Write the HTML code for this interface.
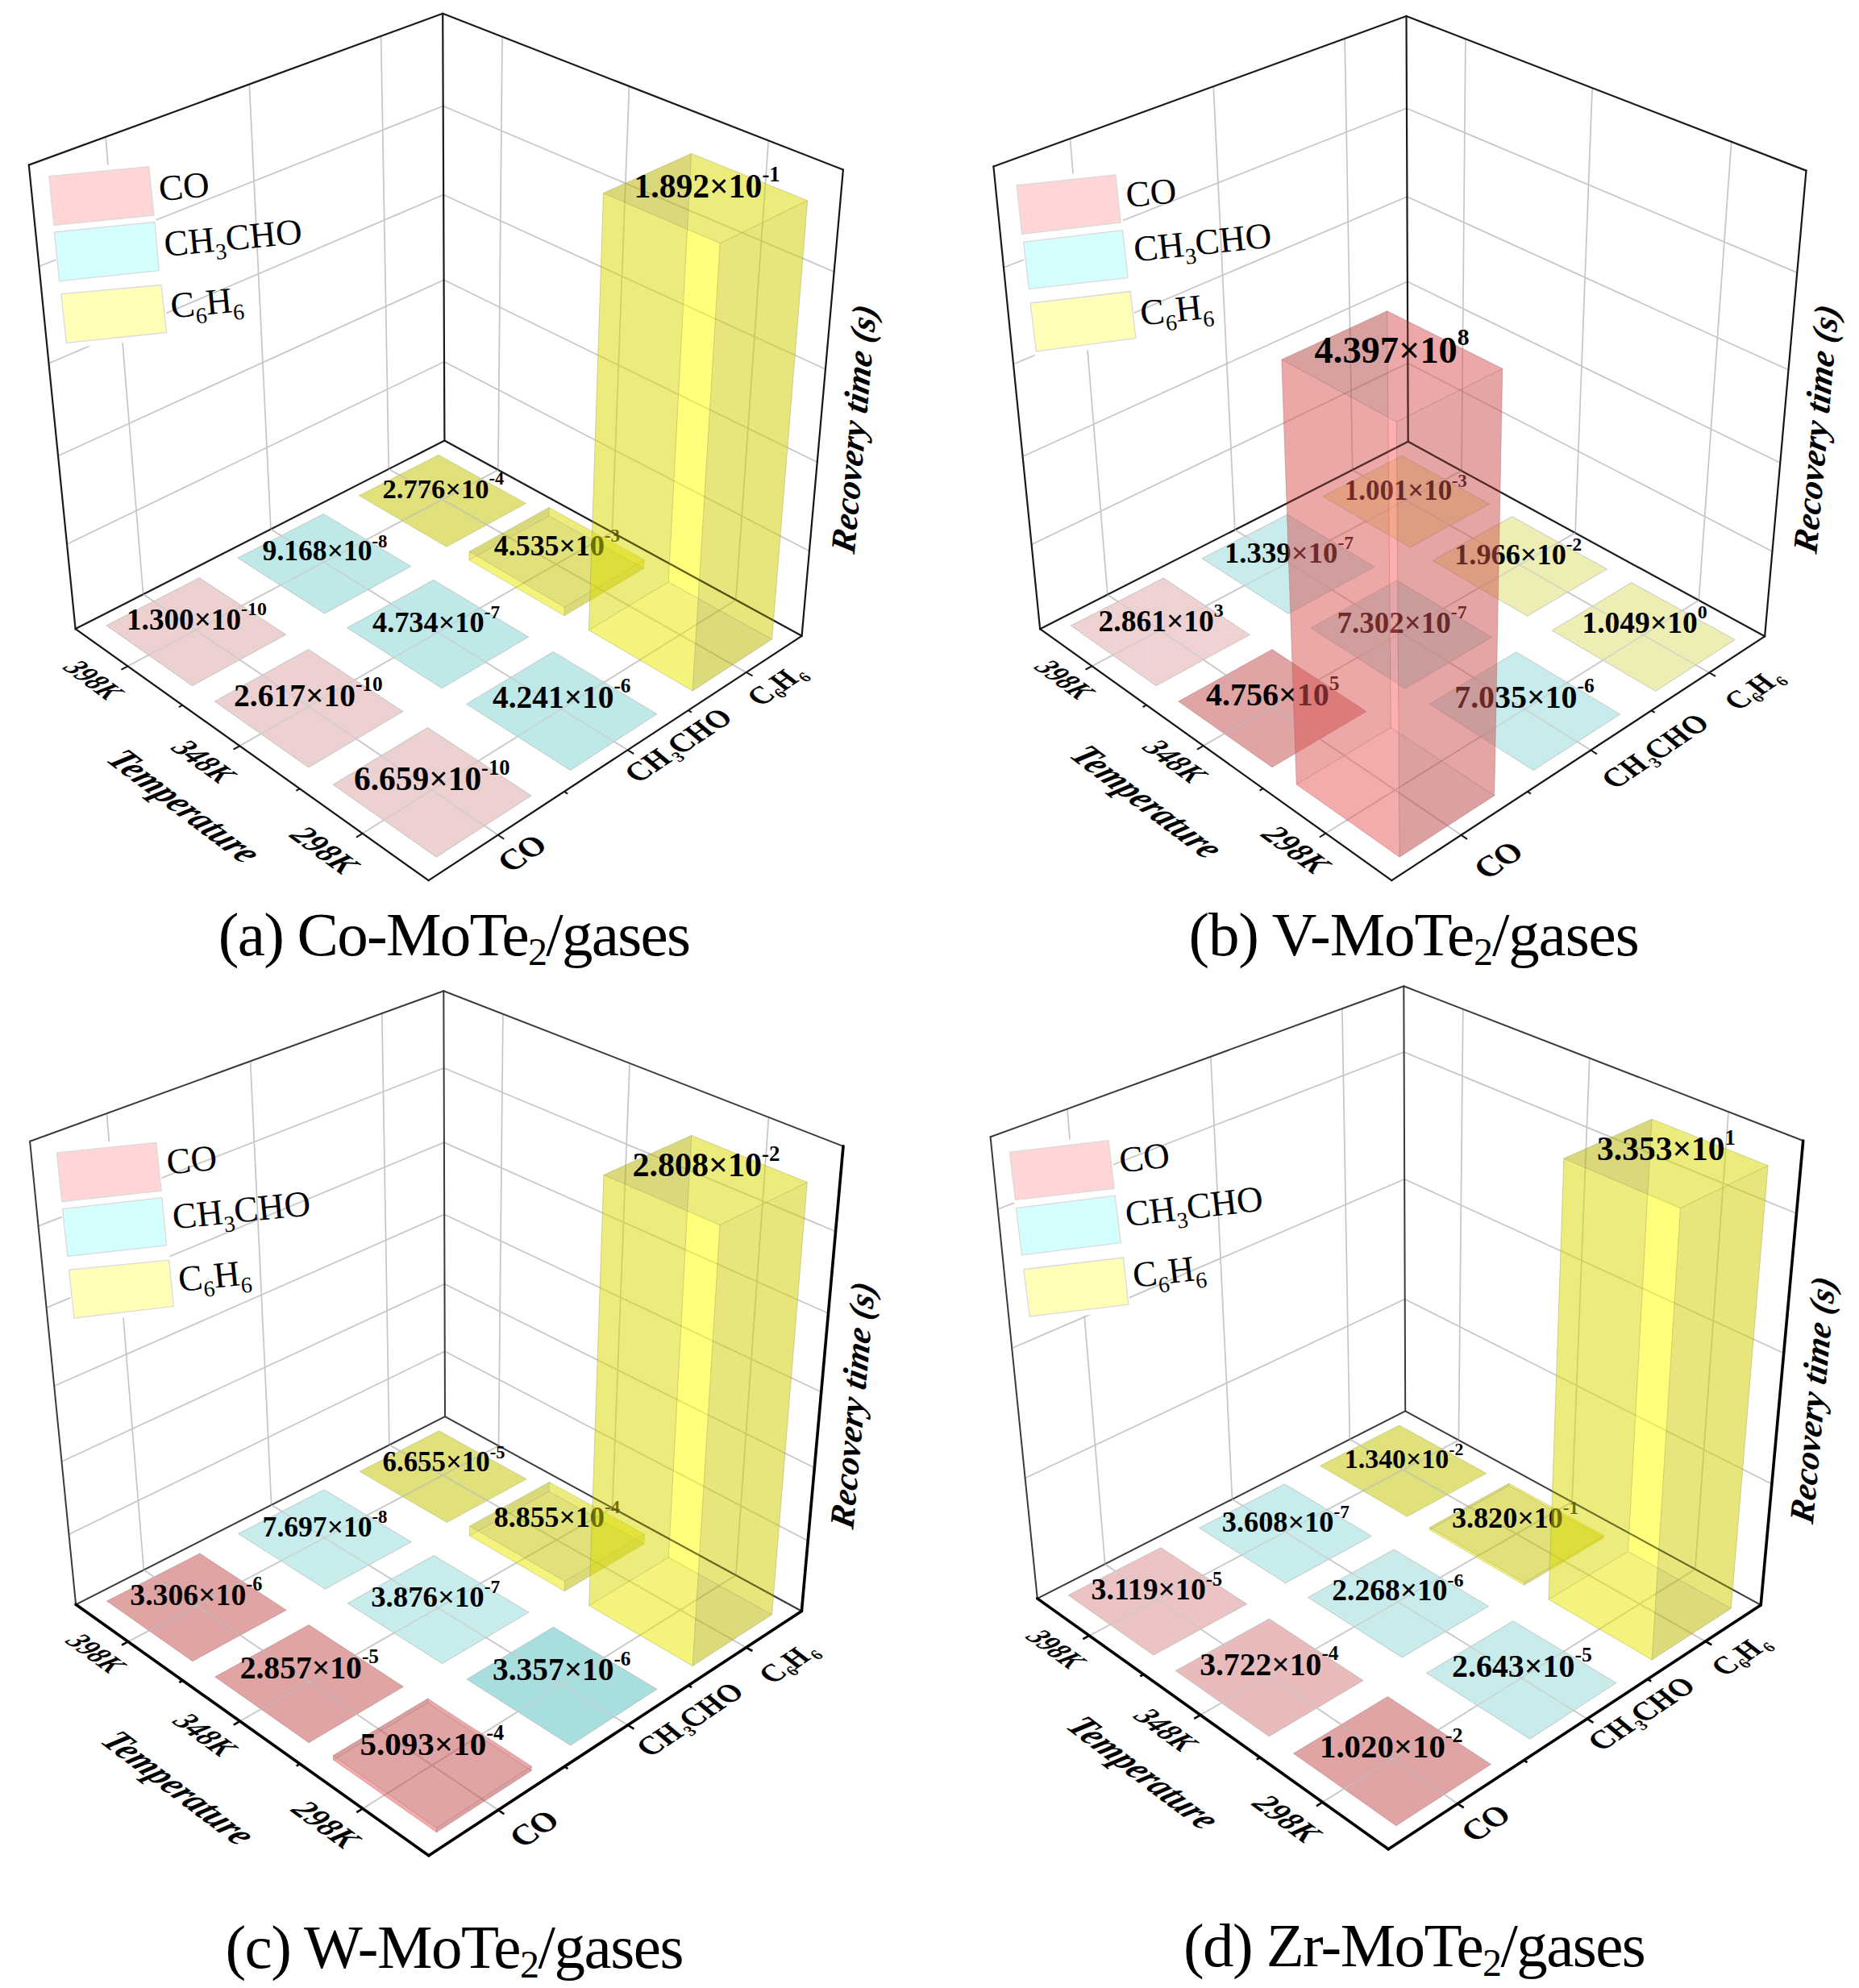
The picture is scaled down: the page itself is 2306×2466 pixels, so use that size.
<!DOCTYPE html>
<html><head><meta charset="utf-8"><title>Recovery time of doped MoTe2 gas sensors</title>
<style>
html,body{margin:0;padding:0;background:#fff}
svg{display:block}
text{font-family:"Liberation Serif",serif;fill:#000}
.lb{font-weight:bold}
.ax{font-weight:bold;font-style:italic}
.lg{font-weight:normal}
.cap{font-weight:normal}
</style></head><body>
<svg width="2306" height="2466" viewBox="0 0 2306 2466">
<rect width="2306" height="2466" fill="#fff"/>
<g id="panel-a">
<line x1="177.6" y1="737.2" x2="131.1" y2="169.7" stroke="#c6c6c6" stroke-width="1.70"/>
<line x1="617.9" y1="582.9" x2="623.0" y2="45.6" stroke="#c6c6c6" stroke-width="1.70"/>
<line x1="158.5" y1="826.3" x2="617.9" y2="582.9" stroke="#c6c6c6" stroke-width="1.70"/>
<line x1="177.6" y1="737.2" x2="617.8" y2="1035.7" stroke="#c6c6c6" stroke-width="1.70"/>
<line x1="335.9" y1="656.5" x2="309.3" y2="104.6" stroke="#c6c6c6" stroke-width="1.70"/>
<line x1="759.3" y1="660.2" x2="780.5" y2="107.0" stroke="#c6c6c6" stroke-width="1.70"/>
<line x1="297.3" y1="925.3" x2="759.3" y2="660.2" stroke="#c6c6c6" stroke-width="1.70"/>
<line x1="335.9" y1="656.5" x2="778.6" y2="930.3" stroke="#c6c6c6" stroke-width="1.70"/>
<line x1="482.2" y1="581.8" x2="472.6" y2="44.8" stroke="#c6c6c6" stroke-width="1.70"/>
<line x1="912.8" y1="744.1" x2="953.2" y2="174.4" stroke="#c6c6c6" stroke-width="1.70"/>
<line x1="449.7" y1="1033.8" x2="912.8" y2="744.1" stroke="#c6c6c6" stroke-width="1.70"/>
<line x1="482.2" y1="581.8" x2="925.6" y2="834.0" stroke="#c6c6c6" stroke-width="1.70"/>
<line x1="83.0" y1="675.1" x2="551.0" y2="448.8" stroke="#c6c6c6" stroke-width="1.70"/>
<line x1="551.0" y1="448.8" x2="1003.9" y2="683.4" stroke="#c6c6c6" stroke-width="1.70"/>
<line x1="72.0" y1="565.4" x2="550.6" y2="347.3" stroke="#c6c6c6" stroke-width="1.70"/>
<line x1="550.6" y1="347.3" x2="1013.7" y2="573.2" stroke="#c6c6c6" stroke-width="1.70"/>
<line x1="60.5" y1="450.7" x2="550.1" y2="241.6" stroke="#c6c6c6" stroke-width="1.70"/>
<line x1="550.1" y1="241.6" x2="1024.0" y2="457.9" stroke="#c6c6c6" stroke-width="1.70"/>
<line x1="48.5" y1="330.5" x2="549.7" y2="131.5" stroke="#c6c6c6" stroke-width="1.70"/>
<line x1="549.7" y1="131.5" x2="1034.7" y2="337.1" stroke="#c6c6c6" stroke-width="1.70"/>
<line x1="93.6" y1="780.1" x2="551.4" y2="546.5" stroke="#1a1a1a" stroke-width="2.20" stroke-linecap="round"/>
<line x1="551.4" y1="546.5" x2="994.6" y2="788.8" stroke="#1a1a1a" stroke-width="2.20" stroke-linecap="round"/>
<line x1="551.4" y1="546.5" x2="549.2" y2="16.8" stroke="#1a1a1a" stroke-width="2.20" stroke-linecap="round"/>
<line x1="93.6" y1="780.1" x2="35.8" y2="204.6" stroke="#1a1a1a" stroke-width="2.20" stroke-linecap="round"/>
<line x1="35.8" y1="204.6" x2="549.2" y2="16.8" stroke="#1a1a1a" stroke-width="2.20" stroke-linecap="round"/>
<line x1="549.2" y1="16.8" x2="1045.9" y2="210.5" stroke="#1a1a1a" stroke-width="2.20" stroke-linecap="round"/>
<polygon points="58.1,211.8 185.9,199.4 209.3,419.3 81.0,432.6" fill="#fff"/>
<polygon points="60.8,218.6 184.6,206.6 191.0,267.0 66.9,279.4" fill="#ffd5d5" stroke="#dadada" stroke-width="1.3" stroke-linejoin="round"/>
<polygon points="67.5,288.0 192.0,275.4 197.2,335.6 73.6,348.6" fill="#d4ffff" stroke="#dadada" stroke-width="1.3" stroke-linejoin="round"/>
<polygon points="75.9,364.7 200.0,353.5 206.6,412.5 82.3,425.4" fill="#ffffb8" stroke="#dadada" stroke-width="1.3" stroke-linejoin="round"/>
<text transform="translate(198.5,249.2) rotate(-5.5)" font-size="45.0" class="lg">CO</text>
<text transform="translate(205.0,318.0) rotate(-5.5)" font-size="45.0" class="lg">CH<tspan dy="10" font-size="28">3</tspan><tspan dy="-10">CHO</tspan></text>
<text transform="translate(213.0,394.4) rotate(-5.5)" font-size="45.0" class="lg">C<tspan dy="10" font-size="28">6</tspan><tspan dy="-10">H</tspan><tspan dy="10" font-size="28">6</tspan></text>
<polygon points="132.0,775.9 247.2,716.7 354.7,787.2 238.5,850.7" fill="#edd0d0" stroke="#b5b5b5" stroke-width="0.9" stroke-linejoin="round" stroke-opacity="0.80"/>
<polygon points="266.2,870.1 382.6,805.5 499.9,882.5 382.8,952.0" fill="#edd0d0" stroke="#b5b5b5" stroke-width="0.9" stroke-linejoin="round" stroke-opacity="0.80"/>
<polygon points="413.1,973.3 530.4,902.5 659.0,986.9 541.3,1063.2" fill="#edd0d0" stroke="#b5b5b5" stroke-width="0.9" stroke-linejoin="round" stroke-opacity="0.80"/>
<pattern id="dz0" width="2" height="2" patternUnits="userSpaceOnUse"><rect width="2" height="2" fill="#b8e5e5"/><rect width="1" height="1" fill="#c6ebeb"/><rect x="1" y="1" width="1" height="1" fill="#c6ebeb"/></pattern>
<polygon points="294.9,692.2 401.3,637.5 509.6,702.5 402.7,761.0" fill="url(#dz0)" stroke="#b5b5b5" stroke-width="0.9" stroke-linejoin="round" stroke-opacity="0.80"/>
<polygon points="430.6,778.8 537.7,719.4 655.5,790.1 548.1,853.8" fill="url(#dz0)" stroke="#b5b5b5" stroke-width="0.9" stroke-linejoin="round" stroke-opacity="0.80"/>
<polygon points="578.7,873.3 686.1,808.4 814.8,885.7 707.4,955.5" fill="url(#dz0)" stroke="#b5b5b5" stroke-width="0.9" stroke-linejoin="round" stroke-opacity="0.80"/>
<g>
<polygon points="445.4,614.8 543.9,564.2 652.6,624.4 553.9,678.3" fill="#c9c900" fill-opacity="0.30"/>
<polygon points="445.4,614.8 543.9,564.2 652.6,624.4 553.9,678.3" fill="#bfbf00" fill-opacity="0.30" stroke="#8c8c46" stroke-width="0.9" stroke-linejoin="round" stroke-opacity="0.35"/>
</g>
<line x1="158.5" y1="826.3" x2="617.9" y2="582.9" stroke="#cbcbcb" stroke-width="1.50" stroke-opacity="0.80"/>
<line x1="177.6" y1="737.2" x2="617.8" y2="1035.7" stroke="#cbcbcb" stroke-width="1.50" stroke-opacity="0.80"/>
<line x1="297.3" y1="925.3" x2="759.3" y2="660.2" stroke="#cbcbcb" stroke-width="1.50" stroke-opacity="0.80"/>
<line x1="335.9" y1="656.5" x2="778.6" y2="930.3" stroke="#cbcbcb" stroke-width="1.50" stroke-opacity="0.80"/>
<line x1="449.7" y1="1033.8" x2="912.8" y2="744.1" stroke="#cbcbcb" stroke-width="1.50" stroke-opacity="0.80"/>
<line x1="482.2" y1="581.8" x2="925.6" y2="834.0" stroke="#cbcbcb" stroke-width="1.50" stroke-opacity="0.80"/>
<g>
<polygon points="581.9,694.8 680.8,639.9 798.7,705.1 699.9,763.8" fill="#c9c900" fill-opacity="0.30"/>
<polygon points="581.9,694.8 680.8,639.9 681.0,629.5 582.0,684.2" fill="#a4a400" fill-opacity="0.30"/>
<polygon points="680.8,639.9 798.7,705.1 799.2,694.5 681.0,629.5" fill="#ffff00" fill-opacity="0.30"/>
<polygon points="581.9,694.8 699.9,763.8 700.2,753.0 582.0,684.2" fill="#ffff00" fill-opacity="0.30"/>
<polygon points="699.9,763.8 798.7,705.1 799.2,694.5 700.2,753.0" fill="#abab00" fill-opacity="0.30"/>
<polygon points="582.0,684.2 681.0,629.5 799.2,694.5 700.2,753.0" fill="#bfbf00" fill-opacity="0.30"/>
<line x1="581.9" y1="694.8" x2="582.0" y2="684.2" stroke="#8c8c46" stroke-width="1.00" stroke-opacity="0.30"/>
<line x1="798.7" y1="705.1" x2="799.2" y2="694.5" stroke="#8c8c46" stroke-width="1.00" stroke-opacity="0.30"/>
<line x1="699.9" y1="763.8" x2="700.2" y2="753.0" stroke="#8c8c46" stroke-width="1.00" stroke-opacity="0.30"/>
<line x1="680.8" y1="639.9" x2="681.0" y2="629.5" stroke="#8c8c46" stroke-width="1.00" stroke-opacity="0.30"/>
<line x1="582.0" y1="684.2" x2="681.0" y2="629.5" stroke="#8c8c46" stroke-width="1.00" stroke-opacity="0.30"/>
<line x1="681.0" y1="629.5" x2="799.2" y2="694.5" stroke="#8c8c46" stroke-width="1.00" stroke-opacity="0.30"/>
<line x1="799.2" y1="694.5" x2="700.2" y2="753.0" stroke="#8c8c46" stroke-width="1.00" stroke-opacity="0.30"/>
<line x1="700.2" y1="753.0" x2="582.0" y2="684.2" stroke="#8c8c46" stroke-width="1.00" stroke-opacity="0.30"/>
<line x1="581.9" y1="694.8" x2="699.9" y2="763.8" stroke="#8c8c46" stroke-width="1.00" stroke-opacity="0.30"/>
<line x1="699.9" y1="763.8" x2="798.7" y2="705.1" stroke="#8c8c46" stroke-width="1.00" stroke-opacity="0.30"/>
<line x1="581.9" y1="694.8" x2="680.8" y2="639.9" stroke="#8c8c46" stroke-width="1.00" stroke-opacity="0.30"/>
<line x1="680.8" y1="639.9" x2="798.7" y2="705.1" stroke="#8c8c46" stroke-width="1.00" stroke-opacity="0.30"/>
</g>
<text x="157.0" y="780.5" font-size="37.2" class="lb">1.300×10<tspan dy="-17.5" font-size="23.8">-10</tspan></text>
<text x="290.0" y="875.8" font-size="39.5" class="lb">2.617×10<tspan dy="-18.6" font-size="25.3">-10</tspan></text>
<text x="439.0" y="980.0" font-size="41.4" class="lb">6.659×10<tspan dy="-19.5" font-size="26.5">-10</tspan></text>
<text x="325.6" y="695.3" font-size="35.6" class="lb">9.168×10<tspan dy="-16.7" font-size="22.8">-8</tspan></text>
<text x="462.0" y="784.0" font-size="36.3" class="lb">4.734×10<tspan dy="-17.1" font-size="23.2">-7</tspan></text>
<text x="611.0" y="877.6" font-size="39.4" class="lb">4.241×10<tspan dy="-18.5" font-size="25.2">-6</tspan></text>
<text x="474.5" y="617.5" font-size="34.6" class="lb">2.776×10<tspan dy="-16.3" font-size="22.2">-4</tspan></text>
<text x="612.8" y="688.5" font-size="35.9" class="lb">4.535×10<tspan dy="-16.9" font-size="23.0">-3</tspan></text>
<g>
<polygon points="730.4,781.7 829.2,722.0 957.6,793.0 859.1,857.0" fill="#c9c900" fill-opacity="0.30"/>
<polygon points="730.4,781.7 829.2,722.0 857.6,190.4 748.5,239.6" fill="#a4a400" fill-opacity="0.30"/>
<polygon points="829.2,722.0 957.6,793.0 1001.7,248.7 857.6,190.4" fill="#ffff00" fill-opacity="0.30"/>
<polygon points="730.4,781.7 859.1,857.0 893.1,301.8 748.5,239.6" fill="#ffff00" fill-opacity="0.30"/>
<polygon points="859.1,857.0 957.6,793.0 1001.7,248.7 893.1,301.8" fill="#abab00" fill-opacity="0.30"/>
<polygon points="748.5,239.6 857.6,190.4 1001.7,248.7 893.1,301.8" fill="#bfbf00" fill-opacity="0.30"/>
<clipPath id="ca"><polygon points="748.5,239.6 857.6,190.4 1001.7,248.7 957.6,793.0 859.1,857.0 730.4,781.7"/></clipPath>
<g clip-path="url(#ca)">
<line x1="93.6" y1="780.1" x2="551.4" y2="546.5" stroke="#1a1a1a" stroke-width="2.20" stroke-opacity="0.40"/>
<line x1="551.4" y1="546.5" x2="994.6" y2="788.8" stroke="#1a1a1a" stroke-width="2.20" stroke-opacity="0.40"/>
<line x1="551.4" y1="546.5" x2="549.2" y2="16.8" stroke="#1a1a1a" stroke-width="2.20" stroke-opacity="0.40"/>
</g>
<line x1="730.4" y1="781.7" x2="748.5" y2="239.6" stroke="#8c8c46" stroke-width="1.00" stroke-opacity="0.35"/>
<line x1="957.6" y1="793.0" x2="1001.7" y2="248.7" stroke="#8c8c46" stroke-width="1.00" stroke-opacity="0.35"/>
<line x1="859.1" y1="857.0" x2="893.1" y2="301.8" stroke="#8c8c46" stroke-width="1.00" stroke-opacity="0.35"/>
<line x1="829.2" y1="722.0" x2="857.6" y2="190.4" stroke="#8c8c46" stroke-width="1.00" stroke-opacity="0.35"/>
<line x1="748.5" y1="239.6" x2="857.6" y2="190.4" stroke="#8c8c46" stroke-width="1.00" stroke-opacity="0.35"/>
<line x1="857.6" y1="190.4" x2="1001.7" y2="248.7" stroke="#8c8c46" stroke-width="1.00" stroke-opacity="0.35"/>
<line x1="1001.7" y1="248.7" x2="893.1" y2="301.8" stroke="#8c8c46" stroke-width="1.00" stroke-opacity="0.35"/>
<line x1="893.1" y1="301.8" x2="748.5" y2="239.6" stroke="#8c8c46" stroke-width="1.00" stroke-opacity="0.35"/>
<line x1="730.4" y1="781.7" x2="859.1" y2="857.0" stroke="#8c8c46" stroke-width="1.00" stroke-opacity="0.35"/>
<line x1="859.1" y1="857.0" x2="957.6" y2="793.0" stroke="#8c8c46" stroke-width="1.00" stroke-opacity="0.35"/>
<line x1="730.4" y1="781.7" x2="829.2" y2="722.0" stroke="#8c8c46" stroke-width="1.00" stroke-opacity="0.35"/>
<line x1="829.2" y1="722.0" x2="957.6" y2="793.0" stroke="#8c8c46" stroke-width="1.00" stroke-opacity="0.35"/>
</g>
<text x="786.5" y="245.0" font-size="41.6" class="lb">1.892×10<tspan dy="-19.6" font-size="26.6">-1</tspan></text>
<line x1="93.6" y1="780.1" x2="531.6" y2="1092.2" stroke="#151515" stroke-width="2.20" stroke-linecap="round"/>
<line x1="531.6" y1="1092.2" x2="994.6" y2="788.8" stroke="#151515" stroke-width="2.20" stroke-linecap="round"/>
<line x1="994.6" y1="788.8" x2="1045.9" y2="210.5" stroke="#151515" stroke-width="2.20" stroke-linecap="round"/>
<line x1="158.5" y1="826.3" x2="150.5" y2="830.6" stroke="#151515" stroke-width="2.00"/>
<line x1="617.8" y1="1035.7" x2="625.2" y2="1040.8" stroke="#151515" stroke-width="2.00"/>
<line x1="226.3" y1="874.7" x2="221.9" y2="877.1" stroke="#151515" stroke-width="2.00"/>
<line x1="700.0" y1="981.8" x2="704.2" y2="984.6" stroke="#151515" stroke-width="2.00"/>
<line x1="297.3" y1="925.3" x2="289.5" y2="929.7" stroke="#151515" stroke-width="2.00"/>
<line x1="778.6" y1="930.3" x2="786.2" y2="935.1" stroke="#151515" stroke-width="2.00"/>
<line x1="371.7" y1="978.3" x2="367.4" y2="980.8" stroke="#151515" stroke-width="2.00"/>
<line x1="853.7" y1="881.1" x2="858.0" y2="883.6" stroke="#151515" stroke-width="2.00"/>
<line x1="449.7" y1="1033.8" x2="442.0" y2="1038.6" stroke="#151515" stroke-width="2.00"/>
<line x1="925.6" y1="834.0" x2="933.5" y2="838.4" stroke="#151515" stroke-width="2.00"/>
<text transform="matrix(0.2537,0.1848,-0.3386,0.1789,115.7,843.2)" text-anchor="middle" y="33" font-size="100" class="ax">398K</text>
<text transform="matrix(0.2780,0.2027,-0.3428,0.1961,252.4,944.2)" text-anchor="middle" y="33" font-size="100" class="ax">348K</text>
<text transform="matrix(0.3059,0.2231,-0.3460,0.2156,402.3,1054.2)" text-anchor="middle" y="33" font-size="100" class="ax">298K</text>
<text transform="matrix(0.3276,0.2466,-0.4094,0.2385,229.0,999.8)" text-anchor="middle" y="33" font-size="100" class="ax">Temperature</text>
<text transform="matrix(0.3436,-0.2292,0.3492,0.2371,647.5,1058.4)" text-anchor="middle" y="33" font-size="100" class="ax">CO</text>
<text transform="matrix(0.3067,-0.2042,0.3480,0.2111,841.2,924.6)" text-anchor="middle" y="33" font-size="100" class="ax">CH<tspan dy="17" font-size="56">3</tspan><tspan dy="-17">CHO</tspan></text>
<text transform="matrix(0.2860,-0.1910,0.3477,0.1973,962.3,850.3)" text-anchor="middle" y="33" font-size="100" class="ax">C<tspan dy="17" font-size="56">6</tspan><tspan dy="-17">H</tspan><tspan dy="17" font-size="56">6</tspan></text>
<text transform="translate(1060.5,532.0) rotate(-84.9) skewX(-7)" text-anchor="middle" y="13.0" font-size="43.3" class="ax">Recovery time (s)</text>
<text x="270.7" y="1184.6" font-size="77.0" class="cap" textLength="586.3" lengthAdjust="spacing">(a) Co-MoTe<tspan dy="12" font-size="48">2</tspan><tspan dy="-12">/gases</tspan></text>
</g>
<g id="panel-b">
<line x1="1373.9" y1="737.5" x2="1327.5" y2="171.8" stroke="#c6c6c6" stroke-width="1.70"/>
<line x1="1813.0" y1="584.0" x2="1817.9" y2="48.4" stroke="#c6c6c6" stroke-width="1.70"/>
<line x1="1354.5" y1="826.3" x2="1813.0" y2="584.0" stroke="#c6c6c6" stroke-width="1.70"/>
<line x1="1373.9" y1="737.5" x2="1812.5" y2="1035.8" stroke="#c6c6c6" stroke-width="1.70"/>
<line x1="1531.8" y1="657.2" x2="1505.2" y2="107.1" stroke="#c6c6c6" stroke-width="1.70"/>
<line x1="1954.0" y1="661.0" x2="1975.1" y2="109.1" stroke="#c6c6c6" stroke-width="1.70"/>
<line x1="1492.7" y1="925.1" x2="1954.0" y2="661.0" stroke="#c6c6c6" stroke-width="1.70"/>
<line x1="1531.8" y1="657.2" x2="1973.3" y2="930.5" stroke="#c6c6c6" stroke-width="1.70"/>
<line x1="1677.7" y1="582.9" x2="1668.1" y2="47.8" stroke="#c6c6c6" stroke-width="1.70"/>
<line x1="2107.3" y1="744.6" x2="2147.7" y2="175.7" stroke="#c6c6c6" stroke-width="1.70"/>
<line x1="1644.6" y1="1033.7" x2="2107.3" y2="744.6" stroke="#c6c6c6" stroke-width="1.70"/>
<line x1="1677.7" y1="582.9" x2="2120.2" y2="834.3" stroke="#c6c6c6" stroke-width="1.70"/>
<line x1="1279.6" y1="675.6" x2="1746.3" y2="450.5" stroke="#c6c6c6" stroke-width="1.70"/>
<line x1="1746.3" y1="450.5" x2="2198.4" y2="684.0" stroke="#c6c6c6" stroke-width="1.70"/>
<line x1="1268.6" y1="566.2" x2="1745.8" y2="349.3" stroke="#c6c6c6" stroke-width="1.70"/>
<line x1="1745.8" y1="349.3" x2="2208.2" y2="573.9" stroke="#c6c6c6" stroke-width="1.70"/>
<line x1="1257.1" y1="451.8" x2="1745.4" y2="244.0" stroke="#c6c6c6" stroke-width="1.70"/>
<line x1="1745.4" y1="244.0" x2="2218.5" y2="458.8" stroke="#c6c6c6" stroke-width="1.70"/>
<line x1="1245.0" y1="332.0" x2="1744.9" y2="134.3" stroke="#c6c6c6" stroke-width="1.70"/>
<line x1="1744.9" y1="134.3" x2="2229.2" y2="338.1" stroke="#c6c6c6" stroke-width="1.70"/>
<line x1="1290.1" y1="780.2" x2="1746.7" y2="547.8" stroke="#1a1a1a" stroke-width="2.20" stroke-linecap="round"/>
<line x1="1746.7" y1="547.8" x2="2189.1" y2="789.3" stroke="#1a1a1a" stroke-width="2.20" stroke-linecap="round"/>
<line x1="1746.7" y1="547.8" x2="1744.5" y2="20.0" stroke="#1a1a1a" stroke-width="2.20" stroke-linecap="round"/>
<line x1="1290.1" y1="780.2" x2="1232.4" y2="206.5" stroke="#1a1a1a" stroke-width="2.20" stroke-linecap="round"/>
<line x1="1232.4" y1="206.5" x2="1744.5" y2="20.0" stroke="#1a1a1a" stroke-width="2.20" stroke-linecap="round"/>
<line x1="1744.5" y1="20.0" x2="2240.5" y2="211.6" stroke="#1a1a1a" stroke-width="2.20" stroke-linecap="round"/>
<polygon points="1258.4,223.0 1385.1,209.7 1411.7,426.4 1284.0,443.0" fill="#fff"/>
<polygon points="1261.1,229.8 1383.8,216.9 1390.3,276.0 1267.6,290.5" fill="#ffd5d5" stroke="#dadada" stroke-width="1.3" stroke-linejoin="round"/>
<polygon points="1269.8,300.2 1392.5,285.7 1399.0,344.7 1276.3,358.3" fill="#d4ffff" stroke="#dadada" stroke-width="1.3" stroke-linejoin="round"/>
<polygon points="1278.2,376.0 1402.2,361.5 1409.0,419.6 1285.3,435.8" fill="#ffffb8" stroke="#dadada" stroke-width="1.3" stroke-linejoin="round"/>
<text transform="translate(1398.3,257.3) rotate(-6.0)" font-size="45.0" class="lg">CO</text>
<text transform="translate(1408.0,324.4) rotate(-6.0)" font-size="45.0" class="lg">CH<tspan dy="10" font-size="28">3</tspan><tspan dy="-10">CHO</tspan></text>
<text transform="translate(1416.1,403.5) rotate(-6.0)" font-size="45.0" class="lg">C<tspan dy="10" font-size="28">6</tspan><tspan dy="-10">H</tspan><tspan dy="10" font-size="28">6</tspan></text>
<pattern id="dz1" width="2" height="2" patternUnits="userSpaceOnUse"><rect width="2" height="2" fill="#ecc6c6"/><rect width="1" height="1" fill="#f4dede"/><rect x="1" y="1" width="1" height="1" fill="#f4dede"/></pattern>
<polygon points="1328.3,776.1 1443.3,717.1 1550.2,787.4 1434.2,850.7" fill="url(#dz1)" stroke="#b5b5b5" stroke-width="0.9" stroke-linejoin="round" stroke-opacity="0.80"/>
<g>
<polygon points="1461.8,870.1 1578.0,805.6 1694.9,882.5 1577.9,951.8" fill="#c94f4f" fill-opacity="0.30"/>
<polygon points="1461.8,870.1 1578.0,805.6 1694.9,882.5 1577.9,951.8" fill="#bf4b4b" fill-opacity="0.30" stroke="#8c5050" stroke-width="0.9" stroke-linejoin="round" stroke-opacity="0.35"/>
</g>
<polygon points="1490.9,692.7 1597.0,638.3 1704.9,703.1 1598.1,761.3" fill="#c8ecec" stroke="#b5b5b5" stroke-width="0.9" stroke-linejoin="round" stroke-opacity="0.80"/>
<polygon points="1626.0,779.1 1732.8,719.9 1850.4,790.4 1743.1,854.0" fill="#c8ecec" stroke="#b5b5b5" stroke-width="0.9" stroke-linejoin="round" stroke-opacity="0.80"/>
<polygon points="1773.6,873.4 1880.9,808.8 2009.5,886.0 1902.1,955.6" fill="#c8ecec" stroke="#b5b5b5" stroke-width="0.9" stroke-linejoin="round" stroke-opacity="0.80"/>
<polygon points="1640.9,615.8 1739.2,565.4 1847.5,625.3 1749.0,679.0" fill="#eeeeb4" stroke="#b5b5b5" stroke-width="0.9" stroke-linejoin="round" stroke-opacity="0.80"/>
<polygon points="1777.0,695.4 1875.6,640.7 1993.3,705.8 1894.6,764.2" fill="#eeeeb4" stroke="#b5b5b5" stroke-width="0.9" stroke-linejoin="round" stroke-opacity="0.80"/>
<polygon points="1925.2,782.1 2023.8,722.6 2152.1,793.5 2053.7,857.3" fill="#eeeeb4" stroke="#b5b5b5" stroke-width="0.9" stroke-linejoin="round" stroke-opacity="0.80"/>
<line x1="1354.5" y1="826.3" x2="1813.0" y2="584.0" stroke="#cbcbcb" stroke-width="1.50" stroke-opacity="0.80"/>
<line x1="1373.9" y1="737.5" x2="1812.5" y2="1035.8" stroke="#cbcbcb" stroke-width="1.50" stroke-opacity="0.80"/>
<line x1="1492.7" y1="925.1" x2="1954.0" y2="661.0" stroke="#cbcbcb" stroke-width="1.50" stroke-opacity="0.80"/>
<line x1="1531.8" y1="657.2" x2="1973.3" y2="930.5" stroke="#cbcbcb" stroke-width="1.50" stroke-opacity="0.80"/>
<line x1="1644.6" y1="1033.7" x2="2107.3" y2="744.6" stroke="#cbcbcb" stroke-width="1.50" stroke-opacity="0.80"/>
<line x1="1677.7" y1="582.9" x2="2120.2" y2="834.3" stroke="#cbcbcb" stroke-width="1.50" stroke-opacity="0.80"/>
<text x="1667.8" y="620.2" font-size="34.9" class="lb">1.001×10<tspan dy="-16.4" font-size="22.3">-3</tspan></text>
<text x="1518.9" y="697.8" font-size="36.8" class="lb">1.339×10<tspan dy="-17.3" font-size="23.5">-7</tspan></text>
<text x="1804.2" y="699.6" font-size="36.3" class="lb">1.966×10<tspan dy="-17.1" font-size="23.3">-2</tspan></text>
<text x="1362.6" y="782.7" font-size="37.5" class="lb">2.861×10<tspan dy="-17.6" font-size="24.0">3</tspan></text>
<text x="1658.5" y="784.6" font-size="37.0" class="lb">7.302×10<tspan dy="-17.4" font-size="23.7">-7</tspan></text>
<text x="1962.4" y="784.6" font-size="37.5" class="lb">1.049×10<tspan dy="-17.6" font-size="24.0">0</tspan></text>
<text x="1496.0" y="874.5" font-size="40.0" class="lb">4.756×10<tspan dy="-18.8" font-size="25.6">5</tspan></text>
<text x="1804.2" y="877.6" font-size="39.9" class="lb">7.035×10<tspan dy="-18.8" font-size="25.5">-6</tspan></text>
<g>
<polygon points="1608.2,973.1 1725.3,902.5 1853.7,986.9 1736.1,1063.2" fill="#c94f4f" fill-opacity="0.30"/>
<polygon points="1608.2,973.1 1725.3,902.5 1720.7,385.7 1589.8,446.0" fill="#a44040" fill-opacity="0.30"/>
<polygon points="1725.3,902.5 1853.7,986.9 1863.8,457.3 1720.7,385.7" fill="#ff6464" fill-opacity="0.30"/>
<polygon points="1608.2,973.1 1736.1,1063.2 1732.3,523.1 1589.8,446.0" fill="#ff6464" fill-opacity="0.30"/>
<polygon points="1736.1,1063.2 1853.7,986.9 1863.8,457.3 1732.3,523.1" fill="#ab4343" fill-opacity="0.30"/>
<polygon points="1589.8,446.0 1720.7,385.7 1863.8,457.3 1732.3,523.1" fill="#bf4b4b" fill-opacity="0.30"/>
<clipPath id="cb"><polygon points="1589.8,446.0 1720.7,385.7 1863.8,457.3 1853.7,986.9 1736.1,1063.2 1608.2,973.1"/></clipPath>
<g clip-path="url(#cb)">
<line x1="1290.1" y1="780.2" x2="1746.7" y2="547.8" stroke="#1a1a1a" stroke-width="2.20" stroke-opacity="0.40"/>
<line x1="1746.7" y1="547.8" x2="2189.1" y2="789.3" stroke="#1a1a1a" stroke-width="2.20" stroke-opacity="0.40"/>
<line x1="1746.7" y1="547.8" x2="1744.5" y2="20.0" stroke="#1a1a1a" stroke-width="2.20" stroke-opacity="0.40"/>
</g>
<line x1="1608.2" y1="973.1" x2="1589.8" y2="446.0" stroke="#8c5050" stroke-width="1.00" stroke-opacity="0.30"/>
<line x1="1853.7" y1="986.9" x2="1863.8" y2="457.3" stroke="#8c5050" stroke-width="1.00" stroke-opacity="0.30"/>
<line x1="1736.1" y1="1063.2" x2="1732.3" y2="523.1" stroke="#8c5050" stroke-width="1.00" stroke-opacity="0.30"/>
<line x1="1725.3" y1="902.5" x2="1720.7" y2="385.7" stroke="#8c5050" stroke-width="1.00" stroke-opacity="0.30"/>
<line x1="1589.8" y1="446.0" x2="1720.7" y2="385.7" stroke="#8c5050" stroke-width="1.00" stroke-opacity="0.30"/>
<line x1="1720.7" y1="385.7" x2="1863.8" y2="457.3" stroke="#8c5050" stroke-width="1.00" stroke-opacity="0.30"/>
<line x1="1863.8" y1="457.3" x2="1732.3" y2="523.1" stroke="#8c5050" stroke-width="1.00" stroke-opacity="0.30"/>
<line x1="1732.3" y1="523.1" x2="1589.8" y2="446.0" stroke="#8c5050" stroke-width="1.00" stroke-opacity="0.30"/>
<line x1="1608.2" y1="973.1" x2="1736.1" y2="1063.2" stroke="#8c5050" stroke-width="1.00" stroke-opacity="0.30"/>
<line x1="1736.1" y1="1063.2" x2="1853.7" y2="986.9" stroke="#8c5050" stroke-width="1.00" stroke-opacity="0.30"/>
<line x1="1608.2" y1="973.1" x2="1725.3" y2="902.5" stroke="#8c5050" stroke-width="1.00" stroke-opacity="0.30"/>
<line x1="1725.3" y1="902.5" x2="1853.7" y2="986.9" stroke="#8c5050" stroke-width="1.00" stroke-opacity="0.30"/>
</g>
<text x="1630.6" y="449.7" font-size="46.4" class="lb">4.397×10<tspan dy="-21.8" font-size="29.7">8</tspan></text>
<line x1="1290.1" y1="780.2" x2="1726.3" y2="1092.2" stroke="#151515" stroke-width="2.20" stroke-linecap="round"/>
<line x1="1726.3" y1="1092.2" x2="2189.1" y2="789.3" stroke="#151515" stroke-width="2.20" stroke-linecap="round"/>
<line x1="2189.1" y1="789.3" x2="2240.5" y2="211.6" stroke="#151515" stroke-width="2.20" stroke-linecap="round"/>
<line x1="1354.5" y1="826.3" x2="1346.6" y2="830.5" stroke="#151515" stroke-width="2.00"/>
<line x1="1812.5" y1="1035.8" x2="1820.0" y2="1040.8" stroke="#151515" stroke-width="2.00"/>
<line x1="1422.0" y1="874.6" x2="1417.6" y2="877.0" stroke="#151515" stroke-width="2.00"/>
<line x1="1894.7" y1="981.9" x2="1898.9" y2="984.7" stroke="#151515" stroke-width="2.00"/>
<line x1="1492.7" y1="925.1" x2="1484.9" y2="929.6" stroke="#151515" stroke-width="2.00"/>
<line x1="1973.3" y1="930.5" x2="1980.9" y2="935.3" stroke="#151515" stroke-width="2.00"/>
<line x1="1566.8" y1="978.1" x2="1562.5" y2="980.7" stroke="#151515" stroke-width="2.00"/>
<line x1="2048.4" y1="881.4" x2="2052.7" y2="883.9" stroke="#151515" stroke-width="2.00"/>
<line x1="1644.6" y1="1033.7" x2="1636.9" y2="1038.5" stroke="#151515" stroke-width="2.00"/>
<line x1="2120.2" y1="834.3" x2="2128.1" y2="838.8" stroke="#151515" stroke-width="2.00"/>
<text transform="matrix(0.2528,0.1844,-0.3372,0.1781,1320.3,842.6)" text-anchor="middle" y="33" font-size="100" class="ax">398K</text>
<text transform="matrix(0.2776,0.2026,-0.3416,0.1955,1457.1,943.8)" text-anchor="middle" y="33" font-size="100" class="ax">348K</text>
<text transform="matrix(0.3060,0.2233,-0.3450,0.2152,1607.4,1053.5)" text-anchor="middle" y="33" font-size="100" class="ax">298K</text>
<text transform="matrix(0.3253,0.2456,-0.4083,0.2368,1423.3,994.3)" text-anchor="middle" y="33" font-size="100" class="ax">Temperature</text>
<text transform="matrix(0.3433,-0.2307,0.3521,0.2394,1858.7,1066.9)" text-anchor="middle" y="33" font-size="100" class="ax">CO</text>
<text transform="matrix(0.3060,-0.2052,0.3509,0.2126,2053.0,931.7)" text-anchor="middle" y="33" font-size="100" class="ax">CH<tspan dy="17" font-size="56">3</tspan><tspan dy="-17">CHO</tspan></text>
<text transform="matrix(0.2848,-0.1915,0.3504,0.1982,2174.4,855.4)" text-anchor="middle" y="33" font-size="100" class="ax">C<tspan dy="17" font-size="56">6</tspan><tspan dy="-17">H</tspan><tspan dy="17" font-size="56">6</tspan></text>
<text transform="translate(2254.0,532.0) rotate(-84.9) skewX(-7)" text-anchor="middle" y="13.0" font-size="43.3" class="ax">Recovery time (s)</text>
<text x="1474.4" y="1184.6" font-size="77.0" class="cap" textLength="559.2" lengthAdjust="spacing">(b) V-MoTe<tspan dy="12" font-size="48">2</tspan><tspan dy="-12">/gases</tspan></text>
</g>
<g id="panel-c">
<line x1="178.3" y1="1947.4" x2="132.5" y2="1381.1" stroke="#c6c6c6" stroke-width="1.70"/>
<line x1="618.5" y1="1793.4" x2="623.9" y2="1257.8" stroke="#c6c6c6" stroke-width="1.70"/>
<line x1="158.9" y1="2036.4" x2="618.5" y2="1793.4" stroke="#c6c6c6" stroke-width="1.70"/>
<line x1="178.3" y1="1947.4" x2="618.0" y2="2245.2" stroke="#c6c6c6" stroke-width="1.70"/>
<line x1="336.6" y1="1866.8" x2="310.6" y2="1316.3" stroke="#c6c6c6" stroke-width="1.70"/>
<line x1="759.6" y1="1870.4" x2="781.1" y2="1318.9" stroke="#c6c6c6" stroke-width="1.70"/>
<line x1="297.6" y1="2135.1" x2="759.6" y2="1870.4" stroke="#c6c6c6" stroke-width="1.70"/>
<line x1="336.6" y1="1866.8" x2="778.7" y2="2139.9" stroke="#c6c6c6" stroke-width="1.70"/>
<line x1="482.9" y1="1792.3" x2="473.8" y2="1257.0" stroke="#c6c6c6" stroke-width="1.70"/>
<line x1="912.8" y1="1954.0" x2="953.5" y2="1386.0" stroke="#c6c6c6" stroke-width="1.70"/>
<line x1="449.9" y1="2243.5" x2="912.8" y2="1954.0" stroke="#c6c6c6" stroke-width="1.70"/>
<line x1="482.9" y1="1792.3" x2="925.6" y2="2043.6" stroke="#c6c6c6" stroke-width="1.70"/>
<line x1="85.5" y1="1903.3" x2="551.7" y2="1676.3" stroke="#c6c6c6" stroke-width="1.70"/>
<line x1="551.7" y1="1676.3" x2="1002.2" y2="1911.2" stroke="#c6c6c6" stroke-width="1.70"/>
<line x1="76.5" y1="1813.0" x2="551.5" y2="1592.7" stroke="#c6c6c6" stroke-width="1.70"/>
<line x1="551.5" y1="1592.7" x2="1010.3" y2="1820.7" stroke="#c6c6c6" stroke-width="1.70"/>
<line x1="67.2" y1="1719.3" x2="551.2" y2="1506.4" stroke="#c6c6c6" stroke-width="1.70"/>
<line x1="551.2" y1="1506.4" x2="1018.7" y2="1726.7" stroke="#c6c6c6" stroke-width="1.70"/>
<line x1="57.6" y1="1622.1" x2="550.9" y2="1417.1" stroke="#c6c6c6" stroke-width="1.70"/>
<line x1="550.9" y1="1417.1" x2="1027.4" y2="1629.0" stroke="#c6c6c6" stroke-width="1.70"/>
<line x1="47.6" y1="1520.9" x2="550.6" y2="1324.8" stroke="#c6c6c6" stroke-width="1.70"/>
<line x1="550.6" y1="1324.8" x2="1036.5" y2="1527.5" stroke="#c6c6c6" stroke-width="1.70"/>
<line x1="94.1" y1="1990.3" x2="552.0" y2="1757.2" stroke="#3a3a3a" stroke-width="2.00" stroke-linecap="round"/>
<line x1="552.0" y1="1757.2" x2="994.4" y2="1998.5" stroke="#3a3a3a" stroke-width="2.00" stroke-linecap="round"/>
<line x1="552.0" y1="1757.2" x2="550.3" y2="1229.2" stroke="#3a3a3a" stroke-width="2.00" stroke-linecap="round"/>
<line x1="94.1" y1="1990.3" x2="37.1" y2="1415.8" stroke="#3a3a3a" stroke-width="2.00" stroke-linecap="round"/>
<line x1="37.1" y1="1415.8" x2="550.3" y2="1229.2" stroke="#3a3a3a" stroke-width="2.00" stroke-linecap="round"/>
<line x1="550.3" y1="1229.2" x2="1046.0" y2="1421.9" stroke="#3a3a3a" stroke-width="2.00" stroke-linecap="round"/>
<polygon points="67.7,1423.1 195.0,1410.1 218.0,1627.1 90.7,1642.4" fill="#fff"/>
<polygon points="70.4,1429.9 193.7,1417.3 200.1,1477.0 76.8,1490.6" fill="#ffd5d5" stroke="#dadada" stroke-width="1.3" stroke-linejoin="round"/>
<polygon points="77.5,1499.6 200.8,1485.7 206.6,1544.8 83.9,1558.4" fill="#d4ffff" stroke="#dadada" stroke-width="1.3" stroke-linejoin="round"/>
<polygon points="85.5,1575.1 209.8,1563.2 215.3,1620.3 92.0,1635.2" fill="#ffffb8" stroke="#dadada" stroke-width="1.3" stroke-linejoin="round"/>
<text transform="translate(208.2,1456.7) rotate(-5.8)" font-size="45.0" class="lg">CO</text>
<text transform="translate(215.6,1524.5) rotate(-5.8)" font-size="45.0" class="lg">CH<tspan dy="10" font-size="28">3</tspan><tspan dy="-10">CHO</tspan></text>
<text transform="translate(222.7,1601.9) rotate(-5.8)" font-size="45.0" class="lg">C<tspan dy="10" font-size="28">6</tspan><tspan dy="-10">H</tspan><tspan dy="10" font-size="28">6</tspan></text>
<g>
<polygon points="132.5,1986.1 247.9,1926.9 355.2,1997.2 238.9,2060.7" fill="#c94f4f" fill-opacity="0.30"/>
<polygon points="132.5,1986.1 247.9,1926.9 355.2,1997.2 238.9,2060.7" fill="#bf4b4b" fill-opacity="0.30" stroke="#8c5050" stroke-width="0.9" stroke-linejoin="round" stroke-opacity="0.35"/>
</g>
<g>
<polygon points="266.6,2080.1 383.1,2015.5 500.3,2092.3 383.1,2161.7" fill="#c94f4f" fill-opacity="0.30"/>
<polygon points="266.6,2080.1 383.1,2015.5 500.3,2092.3 383.1,2161.7" fill="#bf4b4b" fill-opacity="0.30" stroke="#8c5050" stroke-width="0.9" stroke-linejoin="round" stroke-opacity="0.35"/>
</g>
<pattern id="dz2" width="2" height="2" patternUnits="userSpaceOnUse"><rect width="2" height="2" fill="#c0e9e9"/><rect width="1" height="1" fill="#d0efef"/><rect x="1" y="1" width="1" height="1" fill="#d0efef"/></pattern>
<polygon points="295.6,1902.5 402.0,1847.9 510.2,1912.7 403.2,1971.1" fill="url(#dz2)" stroke="#b5b5b5" stroke-width="0.9" stroke-linejoin="round" stroke-opacity="0.80"/>
<polygon points="431.1,1988.8 538.2,1929.5 655.9,2000.0 548.5,2063.6" fill="url(#dz2)" stroke="#b5b5b5" stroke-width="0.9" stroke-linejoin="round" stroke-opacity="0.80"/>
<polygon points="579.0,2083.1 686.4,2018.3 814.9,2095.3 707.6,2165.0" fill="#a8dede" stroke="#b5b5b5" stroke-width="0.9" stroke-linejoin="round" stroke-opacity="0.80"/>
<g>
<polygon points="446.1,1825.3 544.5,1774.8 653.1,1834.7 554.4,1888.6" fill="#c9c900" fill-opacity="0.30"/>
<polygon points="446.1,1825.3 544.5,1774.8 653.1,1834.7 554.4,1888.6" fill="#bfbf00" fill-opacity="0.30" stroke="#8c8c46" stroke-width="0.9" stroke-linejoin="round" stroke-opacity="0.35"/>
</g>
<line x1="158.9" y1="2036.4" x2="618.5" y2="1793.4" stroke="#cbcbcb" stroke-width="1.50" stroke-opacity="0.80"/>
<line x1="178.3" y1="1947.4" x2="618.0" y2="2245.2" stroke="#cbcbcb" stroke-width="1.50" stroke-opacity="0.80"/>
<line x1="297.6" y1="2135.1" x2="759.6" y2="1870.4" stroke="#cbcbcb" stroke-width="1.50" stroke-opacity="0.80"/>
<line x1="336.6" y1="1866.8" x2="778.7" y2="2139.9" stroke="#cbcbcb" stroke-width="1.50" stroke-opacity="0.80"/>
<line x1="449.9" y1="2243.5" x2="912.8" y2="1954.0" stroke="#cbcbcb" stroke-width="1.50" stroke-opacity="0.80"/>
<line x1="482.9" y1="1792.3" x2="925.6" y2="2043.6" stroke="#cbcbcb" stroke-width="1.50" stroke-opacity="0.80"/>
<g>
<polygon points="413.4,2183.0 530.7,2112.2 659.2,2196.4 541.5,2272.8" fill="#c94f4f" fill-opacity="0.30"/>
<polygon points="413.4,2183.0 530.7,2112.2 530.7,2106.9 413.2,2177.6" fill="#a44040" fill-opacity="0.30"/>
<polygon points="530.7,2112.2 659.2,2196.4 659.3,2191.0 530.7,2106.9" fill="#ff6464" fill-opacity="0.30"/>
<polygon points="413.4,2183.0 541.5,2272.8 541.5,2267.3 413.2,2177.6" fill="#ff6464" fill-opacity="0.30"/>
<polygon points="541.5,2272.8 659.2,2196.4 659.3,2191.0 541.5,2267.3" fill="#ab4343" fill-opacity="0.30"/>
<polygon points="413.2,2177.6 530.7,2106.9 659.3,2191.0 541.5,2267.3" fill="#bf4b4b" fill-opacity="0.30"/>
<line x1="413.4" y1="2183.0" x2="413.2" y2="2177.6" stroke="#8c5050" stroke-width="1.00" stroke-opacity="0.30"/>
<line x1="659.2" y1="2196.4" x2="659.3" y2="2191.0" stroke="#8c5050" stroke-width="1.00" stroke-opacity="0.30"/>
<line x1="541.5" y1="2272.8" x2="541.5" y2="2267.3" stroke="#8c5050" stroke-width="1.00" stroke-opacity="0.30"/>
<line x1="530.7" y1="2112.2" x2="530.7" y2="2106.9" stroke="#8c5050" stroke-width="1.00" stroke-opacity="0.30"/>
<line x1="413.2" y1="2177.6" x2="530.7" y2="2106.9" stroke="#8c5050" stroke-width="1.00" stroke-opacity="0.30"/>
<line x1="530.7" y1="2106.9" x2="659.3" y2="2191.0" stroke="#8c5050" stroke-width="1.00" stroke-opacity="0.30"/>
<line x1="659.3" y1="2191.0" x2="541.5" y2="2267.3" stroke="#8c5050" stroke-width="1.00" stroke-opacity="0.30"/>
<line x1="541.5" y1="2267.3" x2="413.2" y2="2177.6" stroke="#8c5050" stroke-width="1.00" stroke-opacity="0.30"/>
<line x1="413.4" y1="2183.0" x2="541.5" y2="2272.8" stroke="#8c5050" stroke-width="1.00" stroke-opacity="0.30"/>
<line x1="541.5" y1="2272.8" x2="659.2" y2="2196.4" stroke="#8c5050" stroke-width="1.00" stroke-opacity="0.30"/>
<line x1="413.4" y1="2183.0" x2="530.7" y2="2112.2" stroke="#8c5050" stroke-width="1.00" stroke-opacity="0.30"/>
<line x1="530.7" y1="2112.2" x2="659.2" y2="2196.4" stroke="#8c5050" stroke-width="1.00" stroke-opacity="0.30"/>
</g>
<g>
<polygon points="582.4,1904.9 681.1,1850.2 798.9,1915.2 700.2,1973.7" fill="#c9c900" fill-opacity="0.30"/>
<polygon points="582.4,1904.9 681.1,1850.2 681.4,1838.4 582.5,1892.9" fill="#a4a400" fill-opacity="0.30"/>
<polygon points="681.1,1850.2 798.9,1915.2 799.4,1903.1 681.4,1838.4" fill="#ffff00" fill-opacity="0.30"/>
<polygon points="582.4,1904.9 700.2,1973.7 700.5,1961.4 582.5,1892.9" fill="#ffff00" fill-opacity="0.30"/>
<polygon points="700.2,1973.7 798.9,1915.2 799.4,1903.1 700.5,1961.4" fill="#abab00" fill-opacity="0.30"/>
<polygon points="582.5,1892.9 681.4,1838.4 799.4,1903.1 700.5,1961.4" fill="#bfbf00" fill-opacity="0.30"/>
<line x1="582.4" y1="1904.9" x2="582.5" y2="1892.9" stroke="#8c8c46" stroke-width="1.00" stroke-opacity="0.30"/>
<line x1="798.9" y1="1915.2" x2="799.4" y2="1903.1" stroke="#8c8c46" stroke-width="1.00" stroke-opacity="0.30"/>
<line x1="700.2" y1="1973.7" x2="700.5" y2="1961.4" stroke="#8c8c46" stroke-width="1.00" stroke-opacity="0.30"/>
<line x1="681.1" y1="1850.2" x2="681.4" y2="1838.4" stroke="#8c8c46" stroke-width="1.00" stroke-opacity="0.30"/>
<line x1="582.5" y1="1892.9" x2="681.4" y2="1838.4" stroke="#8c8c46" stroke-width="1.00" stroke-opacity="0.30"/>
<line x1="681.4" y1="1838.4" x2="799.4" y2="1903.1" stroke="#8c8c46" stroke-width="1.00" stroke-opacity="0.30"/>
<line x1="799.4" y1="1903.1" x2="700.5" y2="1961.4" stroke="#8c8c46" stroke-width="1.00" stroke-opacity="0.30"/>
<line x1="700.5" y1="1961.4" x2="582.5" y2="1892.9" stroke="#8c8c46" stroke-width="1.00" stroke-opacity="0.30"/>
<line x1="582.4" y1="1904.9" x2="700.2" y2="1973.7" stroke="#8c8c46" stroke-width="1.00" stroke-opacity="0.30"/>
<line x1="700.2" y1="1973.7" x2="798.9" y2="1915.2" stroke="#8c8c46" stroke-width="1.00" stroke-opacity="0.30"/>
<line x1="582.4" y1="1904.9" x2="681.1" y2="1850.2" stroke="#8c8c46" stroke-width="1.00" stroke-opacity="0.30"/>
<line x1="681.1" y1="1850.2" x2="798.9" y2="1915.2" stroke="#8c8c46" stroke-width="1.00" stroke-opacity="0.30"/>
</g>
<text x="474.5" y="1825.3" font-size="34.9" class="lb">6.655×10<tspan dy="-16.4" font-size="22.3">-5</tspan></text>
<text x="325.6" y="1906.0" font-size="35.6" class="lb">7.697×10<tspan dy="-16.7" font-size="22.8">-8</tspan></text>
<text x="612.8" y="1893.5" font-size="35.9" class="lb">8.855×10<tspan dy="-16.9" font-size="23.0">-4</tspan></text>
<text x="161.3" y="1991.0" font-size="37.7" class="lb">3.306×10<tspan dy="-17.7" font-size="24.2">-6</tspan></text>
<text x="460.2" y="1992.8" font-size="36.8" class="lb">3.876×10<tspan dy="-17.3" font-size="23.5">-7</tspan></text>
<text x="297.7" y="2081.5" font-size="39.6" class="lb">2.857×10<tspan dy="-18.6" font-size="25.3">-5</tspan></text>
<text x="611.0" y="2084.0" font-size="39.4" class="lb">3.357×10<tspan dy="-18.5" font-size="25.2">-6</tspan></text>
<text x="446.6" y="2177.0" font-size="41.0" class="lb">5.093×10<tspan dy="-19.3" font-size="26.3">-4</tspan></text>
<g>
<polygon points="730.7,1991.6 829.3,1932.0 957.5,2002.8 859.1,2066.6" fill="#c9c900" fill-opacity="0.30"/>
<polygon points="730.7,1991.6 829.3,1932.0 857.7,1408.4 748.9,1457.4" fill="#a4a400" fill-opacity="0.30"/>
<polygon points="829.3,1932.0 957.5,2002.8 1001.3,1466.6 857.7,1408.4" fill="#ffff00" fill-opacity="0.30"/>
<polygon points="730.7,1991.6 859.1,2066.6 893.0,1519.6 748.9,1457.4" fill="#ffff00" fill-opacity="0.30"/>
<polygon points="859.1,2066.6 957.5,2002.8 1001.3,1466.6 893.0,1519.6" fill="#abab00" fill-opacity="0.30"/>
<polygon points="748.9,1457.4 857.7,1408.4 1001.3,1466.6 893.0,1519.6" fill="#bfbf00" fill-opacity="0.30"/>
<clipPath id="cc"><polygon points="748.9,1457.4 857.7,1408.4 1001.3,1466.6 957.5,2002.8 859.1,2066.6 730.7,1991.6"/></clipPath>
<g clip-path="url(#cc)">
<line x1="94.1" y1="1990.3" x2="552.0" y2="1757.2" stroke="#3a3a3a" stroke-width="2.00" stroke-opacity="0.40"/>
<line x1="552.0" y1="1757.2" x2="994.4" y2="1998.5" stroke="#3a3a3a" stroke-width="2.00" stroke-opacity="0.40"/>
<line x1="552.0" y1="1757.2" x2="550.3" y2="1229.2" stroke="#3a3a3a" stroke-width="2.00" stroke-opacity="0.40"/>
</g>
<line x1="730.7" y1="1991.6" x2="748.9" y2="1457.4" stroke="#8c8c46" stroke-width="1.00" stroke-opacity="0.35"/>
<line x1="957.5" y1="2002.8" x2="1001.3" y2="1466.6" stroke="#8c8c46" stroke-width="1.00" stroke-opacity="0.35"/>
<line x1="859.1" y1="2066.6" x2="893.0" y2="1519.6" stroke="#8c8c46" stroke-width="1.00" stroke-opacity="0.35"/>
<line x1="829.3" y1="1932.0" x2="857.7" y2="1408.4" stroke="#8c8c46" stroke-width="1.00" stroke-opacity="0.35"/>
<line x1="748.9" y1="1457.4" x2="857.7" y2="1408.4" stroke="#8c8c46" stroke-width="1.00" stroke-opacity="0.35"/>
<line x1="857.7" y1="1408.4" x2="1001.3" y2="1466.6" stroke="#8c8c46" stroke-width="1.00" stroke-opacity="0.35"/>
<line x1="1001.3" y1="1466.6" x2="893.0" y2="1519.6" stroke="#8c8c46" stroke-width="1.00" stroke-opacity="0.35"/>
<line x1="893.0" y1="1519.6" x2="748.9" y2="1457.4" stroke="#8c8c46" stroke-width="1.00" stroke-opacity="0.35"/>
<line x1="730.7" y1="1991.6" x2="859.1" y2="2066.6" stroke="#8c8c46" stroke-width="1.00" stroke-opacity="0.35"/>
<line x1="859.1" y1="2066.6" x2="957.5" y2="2002.8" stroke="#8c8c46" stroke-width="1.00" stroke-opacity="0.35"/>
<line x1="730.7" y1="1991.6" x2="829.3" y2="1932.0" stroke="#8c8c46" stroke-width="1.00" stroke-opacity="0.35"/>
<line x1="829.3" y1="1932.0" x2="957.5" y2="2002.8" stroke="#8c8c46" stroke-width="1.00" stroke-opacity="0.35"/>
</g>
<text x="784.6" y="1459.4" font-size="42.0" class="lb">2.808×10<tspan dy="-19.8" font-size="26.9">-2</tspan></text>
<line x1="94.1" y1="1990.3" x2="531.8" y2="2301.7" stroke="#000" stroke-width="3.60" stroke-linecap="round"/>
<line x1="531.8" y1="2301.7" x2="994.4" y2="1998.5" stroke="#000" stroke-width="3.60" stroke-linecap="round"/>
<line x1="994.4" y1="1998.5" x2="1046.0" y2="1421.9" stroke="#000" stroke-width="3.60" stroke-linecap="round"/>
<line x1="158.9" y1="2036.4" x2="151.0" y2="2040.6" stroke="#000" stroke-width="2.60"/>
<line x1="618.0" y1="2245.2" x2="625.4" y2="2250.3" stroke="#000" stroke-width="2.60"/>
<line x1="226.7" y1="2084.6" x2="222.3" y2="2087.0" stroke="#000" stroke-width="2.60"/>
<line x1="700.2" y1="2191.3" x2="704.4" y2="2194.0" stroke="#000" stroke-width="2.60"/>
<line x1="297.6" y1="2135.1" x2="289.8" y2="2139.6" stroke="#000" stroke-width="2.60"/>
<line x1="778.7" y1="2139.9" x2="786.4" y2="2144.6" stroke="#000" stroke-width="2.60"/>
<line x1="372.0" y1="2188.0" x2="367.7" y2="2190.6" stroke="#000" stroke-width="2.60"/>
<line x1="853.8" y1="2090.7" x2="858.1" y2="2093.2" stroke="#000" stroke-width="2.60"/>
<line x1="449.9" y1="2243.5" x2="442.3" y2="2248.2" stroke="#000" stroke-width="2.60"/>
<line x1="925.6" y1="2043.6" x2="933.4" y2="2048.0" stroke="#000" stroke-width="2.60"/>
<text transform="matrix(0.2533,0.1840,-0.3384,0.1784,118.6,2050.5)" text-anchor="middle" y="33" font-size="100" class="ax">398K</text>
<text transform="matrix(0.2776,0.2018,-0.3427,0.1957,254.1,2151.6)" text-anchor="middle" y="33" font-size="100" class="ax">348K</text>
<text transform="matrix(0.3057,0.2225,-0.3461,0.2156,404.1,2262.9)" text-anchor="middle" y="33" font-size="100" class="ax">298K</text>
<text transform="matrix(0.3277,0.2479,-0.4122,0.2402,221.9,2217.4)" text-anchor="middle" y="33" font-size="100" class="ax">Temperature</text>
<text transform="matrix(0.3422,-0.2294,0.3506,0.2367,662.5,2268.3)" text-anchor="middle" y="33" font-size="100" class="ax">CO</text>
<text transform="matrix(0.3049,-0.2038,0.3488,0.2103,855.6,2133.0)" text-anchor="middle" y="33" font-size="100" class="ax">CH<tspan dy="17" font-size="56">3</tspan><tspan dy="-17">CHO</tspan></text>
<text transform="matrix(0.2846,-0.1912,0.3491,0.1972,977.1,2063.1)" text-anchor="middle" y="33" font-size="100" class="ax">C<tspan dy="17" font-size="56">6</tspan><tspan dy="-17">H</tspan><tspan dy="17" font-size="56">6</tspan></text>
<text transform="translate(1059.0,1743.0) rotate(-84.9) skewX(-7)" text-anchor="middle" y="12.9" font-size="43.0" class="ax">Recovery time (s)</text>
<text x="279.4" y="2440.5" font-size="77.0" class="cap" textLength="569.0" lengthAdjust="spacing">(c) W-MoTe<tspan dy="12" font-size="48">2</tspan><tspan dy="-12">/gases</tspan></text>
</g>
<g id="panel-d">
<line x1="1370.7" y1="1940.2" x2="1323.9" y2="1375.6" stroke="#c6c6c6" stroke-width="1.70"/>
<line x1="1809.4" y1="1786.4" x2="1814.8" y2="1251.7" stroke="#c6c6c6" stroke-width="1.70"/>
<line x1="1351.2" y1="2028.9" x2="1809.4" y2="1786.4" stroke="#c6c6c6" stroke-width="1.70"/>
<line x1="1370.7" y1="1940.2" x2="1808.2" y2="2237.3" stroke="#c6c6c6" stroke-width="1.70"/>
<line x1="1528.5" y1="1859.7" x2="1501.9" y2="1310.7" stroke="#c6c6c6" stroke-width="1.70"/>
<line x1="1950.0" y1="1863.1" x2="1971.8" y2="1312.5" stroke="#c6c6c6" stroke-width="1.70"/>
<line x1="1489.1" y1="2127.3" x2="1950.0" y2="1863.1" stroke="#c6c6c6" stroke-width="1.70"/>
<line x1="1528.5" y1="1859.7" x2="1968.8" y2="2132.1" stroke="#c6c6c6" stroke-width="1.70"/>
<line x1="1674.3" y1="1785.4" x2="1664.9" y2="1251.2" stroke="#c6c6c6" stroke-width="1.70"/>
<line x1="2102.8" y1="1946.5" x2="2144.1" y2="1379.1" stroke="#c6c6c6" stroke-width="1.70"/>
<line x1="1640.6" y1="2235.5" x2="2102.8" y2="1946.5" stroke="#c6c6c6" stroke-width="1.70"/>
<line x1="1674.3" y1="1785.4" x2="2115.5" y2="2036.0" stroke="#c6c6c6" stroke-width="1.70"/>
<line x1="1271.6" y1="1833.5" x2="1742.7" y2="1611.4" stroke="#c6c6c6" stroke-width="1.70"/>
<line x1="1742.7" y1="1611.4" x2="2197.9" y2="1840.7" stroke="#c6c6c6" stroke-width="1.70"/>
<line x1="1255.3" y1="1672.3" x2="1742.2" y2="1462.7" stroke="#c6c6c6" stroke-width="1.70"/>
<line x1="1742.2" y1="1462.7" x2="2212.7" y2="1678.6" stroke="#c6c6c6" stroke-width="1.70"/>
<line x1="1237.8" y1="1500.0" x2="1741.6" y2="1305.0" stroke="#c6c6c6" stroke-width="1.70"/>
<line x1="1741.6" y1="1305.0" x2="2228.5" y2="1505.3" stroke="#c6c6c6" stroke-width="1.70"/>
<line x1="1286.8" y1="1982.9" x2="1743.2" y2="1750.3" stroke="#3a3a3a" stroke-width="2.00" stroke-linecap="round"/>
<line x1="1743.2" y1="1750.3" x2="2184.2" y2="1990.9" stroke="#3a3a3a" stroke-width="2.00" stroke-linecap="round"/>
<line x1="1743.2" y1="1750.3" x2="1741.3" y2="1223.3" stroke="#3a3a3a" stroke-width="2.00" stroke-linecap="round"/>
<line x1="1286.8" y1="1982.9" x2="1228.6" y2="1410.3" stroke="#3a3a3a" stroke-width="2.00" stroke-linecap="round"/>
<line x1="1228.6" y1="1410.3" x2="1741.3" y2="1223.3" stroke="#3a3a3a" stroke-width="2.00" stroke-linecap="round"/>
<line x1="1741.3" y1="1223.3" x2="2236.7" y2="1415.0" stroke="#3a3a3a" stroke-width="2.00" stroke-linecap="round"/>
<polygon points="1249.6,1422.5 1376.3,1407.5 1402.7,1624.8 1276.1,1640.4" fill="#fff"/>
<polygon points="1252.4,1429.2 1375.1,1414.7 1382.2,1474.4 1259.5,1488.3" fill="#ffd5d5" stroke="#dadada" stroke-width="1.3" stroke-linejoin="round"/>
<polygon points="1260.5,1498.6 1383.1,1483.1 1390.2,1541.6 1267.6,1556.7" fill="#d4ffff" stroke="#dadada" stroke-width="1.3" stroke-linejoin="round"/>
<polygon points="1269.8,1574.5 1393.5,1560.0 1399.9,1618.1 1277.3,1633.2" fill="#ffffb8" stroke="#dadada" stroke-width="1.3" stroke-linejoin="round"/>
<text transform="translate(1390.2,1454.4) rotate(-6.7)" font-size="45.0" class="lg">CO</text>
<text transform="translate(1397.7,1521.2) rotate(-6.7)" font-size="45.0" class="lg">CH<tspan dy="10" font-size="28">3</tspan><tspan dy="-10">CHO</tspan></text>
<text transform="translate(1407.0,1597.1) rotate(-6.7)" font-size="45.0" class="lg">C<tspan dy="10" font-size="28">6</tspan><tspan dy="-10">H</tspan><tspan dy="10" font-size="28">6</tspan></text>
<pattern id="dz3" width="2" height="2" patternUnits="userSpaceOnUse"><rect width="2" height="2" fill="#e8b6b6"/><rect width="1" height="1" fill="#f0d0d0"/><rect x="1" y="1" width="1" height="1" fill="#f0d0d0"/></pattern>
<polygon points="1325.1,1978.7 1440.0,1919.7 1546.7,1989.8 1430.8,2053.1" fill="url(#dz3)" stroke="#b5b5b5" stroke-width="0.9" stroke-linejoin="round" stroke-opacity="0.80"/>
<pattern id="dz4" width="2" height="2" patternUnits="userSpaceOnUse"><rect width="2" height="2" fill="#e6b0b0"/><rect width="1" height="1" fill="#ecc6c6"/><rect x="1" y="1" width="1" height="1" fill="#ecc6c6"/></pattern>
<polygon points="1458.3,2072.4 1574.4,2008.0 1691.1,2084.6 1574.2,2153.9" fill="url(#dz4)" stroke="#b5b5b5" stroke-width="0.9" stroke-linejoin="round" stroke-opacity="0.80"/>
<g>
<polygon points="1604.4,2175.1 1721.4,2104.5 1849.4,2188.6 1731.9,2264.8" fill="#c94f4f" fill-opacity="0.30"/>
<polygon points="1604.4,2175.1 1721.4,2104.5 1849.4,2188.6 1731.9,2264.8" fill="#bf4b4b" fill-opacity="0.30" stroke="#8c5050" stroke-width="0.9" stroke-linejoin="round" stroke-opacity="0.35"/>
</g>
<polygon points="1487.6,1895.3 1593.6,1840.8 1701.3,1905.4 1594.6,1963.7" fill="url(#dz2)" stroke="#b5b5b5" stroke-width="0.9" stroke-linejoin="round" stroke-opacity="0.80"/>
<polygon points="1622.4,1981.4 1729.1,1922.1 1846.4,1992.5 1739.2,2056.0" fill="#c8ecec" stroke="#b5b5b5" stroke-width="0.9" stroke-linejoin="round" stroke-opacity="0.80"/>
<polygon points="1769.6,2075.4 1876.8,2010.7 2004.9,2087.6 1897.7,2157.2" fill="#c8ecec" stroke="#b5b5b5" stroke-width="0.9" stroke-linejoin="round" stroke-opacity="0.80"/>
<g>
<polygon points="1637.5,1818.3 1735.7,1767.9 1843.8,1827.6 1745.4,1881.3" fill="#c9c900" fill-opacity="0.30"/>
<polygon points="1637.5,1818.3 1735.7,1767.9 1843.8,1827.6 1745.4,1881.3" fill="#bfbf00" fill-opacity="0.30" stroke="#8c8c46" stroke-width="0.9" stroke-linejoin="round" stroke-opacity="0.35"/>
</g>
<line x1="1351.2" y1="2028.9" x2="1809.4" y2="1786.4" stroke="#cbcbcb" stroke-width="1.50" stroke-opacity="0.80"/>
<line x1="1370.7" y1="1940.2" x2="1808.2" y2="2237.3" stroke="#cbcbcb" stroke-width="1.50" stroke-opacity="0.80"/>
<line x1="1489.1" y1="2127.3" x2="1950.0" y2="1863.1" stroke="#cbcbcb" stroke-width="1.50" stroke-opacity="0.80"/>
<line x1="1528.5" y1="1859.7" x2="1968.8" y2="2132.1" stroke="#cbcbcb" stroke-width="1.50" stroke-opacity="0.80"/>
<line x1="1640.6" y1="2235.5" x2="2102.8" y2="1946.5" stroke="#cbcbcb" stroke-width="1.50" stroke-opacity="0.80"/>
<line x1="1674.3" y1="1785.4" x2="2115.5" y2="2036.0" stroke="#cbcbcb" stroke-width="1.50" stroke-opacity="0.80"/>
<g>
<polygon points="1773.3,1897.6 1871.8,1843.0 1989.1,1907.8 1890.6,1966.2" fill="#c9c900" fill-opacity="0.30"/>
<polygon points="1773.3,1897.6 1871.8,1843.0 1871.8,1840.1 1773.3,1894.7" fill="#a4a400" fill-opacity="0.30"/>
<polygon points="1871.8,1843.0 1989.1,1907.8 1989.3,1904.8 1871.8,1840.1" fill="#ffff00" fill-opacity="0.30"/>
<polygon points="1773.3,1897.6 1890.6,1966.2 1890.7,1963.2 1773.3,1894.7" fill="#ffff00" fill-opacity="0.30"/>
<polygon points="1890.6,1966.2 1989.1,1907.8 1989.3,1904.8 1890.7,1963.2" fill="#abab00" fill-opacity="0.30"/>
<polygon points="1773.3,1894.7 1871.8,1840.1 1989.3,1904.8 1890.7,1963.2" fill="#bfbf00" fill-opacity="0.30"/>
<line x1="1773.3" y1="1897.6" x2="1773.3" y2="1894.7" stroke="#8c8c46" stroke-width="1.00" stroke-opacity="0.30"/>
<line x1="1989.1" y1="1907.8" x2="1989.3" y2="1904.8" stroke="#8c8c46" stroke-width="1.00" stroke-opacity="0.30"/>
<line x1="1890.6" y1="1966.2" x2="1890.7" y2="1963.2" stroke="#8c8c46" stroke-width="1.00" stroke-opacity="0.30"/>
<line x1="1871.8" y1="1843.0" x2="1871.8" y2="1840.1" stroke="#8c8c46" stroke-width="1.00" stroke-opacity="0.30"/>
<line x1="1773.3" y1="1894.7" x2="1871.8" y2="1840.1" stroke="#8c8c46" stroke-width="1.00" stroke-opacity="0.30"/>
<line x1="1871.8" y1="1840.1" x2="1989.3" y2="1904.8" stroke="#8c8c46" stroke-width="1.00" stroke-opacity="0.30"/>
<line x1="1989.3" y1="1904.8" x2="1890.7" y2="1963.2" stroke="#8c8c46" stroke-width="1.00" stroke-opacity="0.30"/>
<line x1="1890.7" y1="1963.2" x2="1773.3" y2="1894.7" stroke="#8c8c46" stroke-width="1.00" stroke-opacity="0.30"/>
<line x1="1773.3" y1="1897.6" x2="1890.6" y2="1966.2" stroke="#8c8c46" stroke-width="1.00" stroke-opacity="0.30"/>
<line x1="1890.6" y1="1966.2" x2="1989.1" y2="1907.8" stroke="#8c8c46" stroke-width="1.00" stroke-opacity="0.30"/>
<line x1="1773.3" y1="1897.6" x2="1871.8" y2="1843.0" stroke="#8c8c46" stroke-width="1.00" stroke-opacity="0.30"/>
<line x1="1871.8" y1="1843.0" x2="1989.1" y2="1907.8" stroke="#8c8c46" stroke-width="1.00" stroke-opacity="0.30"/>
</g>
<text x="1667.8" y="1821.0" font-size="33.9" class="lb">1.340×10<tspan dy="-15.9" font-size="21.7">-2</tspan></text>
<text x="1515.8" y="1900.0" font-size="36.3" class="lb">3.608×10<tspan dy="-17.1" font-size="23.3">-7</tspan></text>
<text x="1801.0" y="1895.4" font-size="36.1" class="lb">3.820×10<tspan dy="-17.0" font-size="23.1">-1</tspan></text>
<text x="1353.6" y="1984.4" font-size="37.8" class="lb">3.119×10<tspan dy="-17.8" font-size="24.2">-5</tspan></text>
<text x="1652.3" y="1985.2" font-size="37.5" class="lb">2.268×10<tspan dy="-17.6" font-size="24.0">-6</tspan></text>
<text x="1488.2" y="2077.6" font-size="39.6" class="lb">3.722×10<tspan dy="-18.6" font-size="25.3">-4</tspan></text>
<text x="1801.0" y="2079.6" font-size="39.9" class="lb">2.643×10<tspan dy="-18.8" font-size="25.6">-5</tspan></text>
<text x="1637.0" y="2180.0" font-size="40.8" class="lb">1.020×10<tspan dy="-19.2" font-size="26.1">-2</tspan></text>
<g>
<polygon points="1921.0,1984.0 2019.5,1924.6 2147.3,1995.2 2049.1,2058.9" fill="#c9c900" fill-opacity="0.30"/>
<polygon points="1921.0,1984.0 2019.5,1924.6 2049.0,1388.2 1939.9,1437.1" fill="#a4a400" fill-opacity="0.30"/>
<polygon points="2019.5,1924.6 2147.3,1995.2 2193.1,1445.8 2049.0,1388.2" fill="#ffff00" fill-opacity="0.30"/>
<polygon points="1921.0,1984.0 2049.1,2058.9 2084.4,1498.6 1939.9,1437.1" fill="#ffff00" fill-opacity="0.30"/>
<polygon points="2049.1,2058.9 2147.3,1995.2 2193.1,1445.8 2084.4,1498.6" fill="#abab00" fill-opacity="0.30"/>
<polygon points="1939.9,1437.1 2049.0,1388.2 2193.1,1445.8 2084.4,1498.6" fill="#bfbf00" fill-opacity="0.30"/>
<clipPath id="cd"><polygon points="1939.9,1437.1 2049.0,1388.2 2193.1,1445.8 2147.3,1995.2 2049.1,2058.9 1921.0,1984.0"/></clipPath>
<g clip-path="url(#cd)">
<line x1="1286.8" y1="1982.9" x2="1743.2" y2="1750.3" stroke="#3a3a3a" stroke-width="2.00" stroke-opacity="0.40"/>
<line x1="1743.2" y1="1750.3" x2="2184.2" y2="1990.9" stroke="#3a3a3a" stroke-width="2.00" stroke-opacity="0.40"/>
<line x1="1743.2" y1="1750.3" x2="1741.3" y2="1223.3" stroke="#3a3a3a" stroke-width="2.00" stroke-opacity="0.40"/>
</g>
<line x1="1921.0" y1="1984.0" x2="1939.9" y2="1437.1" stroke="#8c8c46" stroke-width="1.00" stroke-opacity="0.35"/>
<line x1="2147.3" y1="1995.2" x2="2193.1" y2="1445.8" stroke="#8c8c46" stroke-width="1.00" stroke-opacity="0.35"/>
<line x1="2049.1" y1="2058.9" x2="2084.4" y2="1498.6" stroke="#8c8c46" stroke-width="1.00" stroke-opacity="0.35"/>
<line x1="2019.5" y1="1924.6" x2="2049.0" y2="1388.2" stroke="#8c8c46" stroke-width="1.00" stroke-opacity="0.35"/>
<line x1="1939.9" y1="1437.1" x2="2049.0" y2="1388.2" stroke="#8c8c46" stroke-width="1.00" stroke-opacity="0.35"/>
<line x1="2049.0" y1="1388.2" x2="2193.1" y2="1445.8" stroke="#8c8c46" stroke-width="1.00" stroke-opacity="0.35"/>
<line x1="2193.1" y1="1445.8" x2="2084.4" y2="1498.6" stroke="#8c8c46" stroke-width="1.00" stroke-opacity="0.35"/>
<line x1="2084.4" y1="1498.6" x2="1939.9" y2="1437.1" stroke="#8c8c46" stroke-width="1.00" stroke-opacity="0.35"/>
<line x1="1921.0" y1="1984.0" x2="2049.1" y2="2058.9" stroke="#8c8c46" stroke-width="1.00" stroke-opacity="0.35"/>
<line x1="2049.1" y1="2058.9" x2="2147.3" y2="1995.2" stroke="#8c8c46" stroke-width="1.00" stroke-opacity="0.35"/>
<line x1="1921.0" y1="1984.0" x2="2019.5" y2="1924.6" stroke="#8c8c46" stroke-width="1.00" stroke-opacity="0.35"/>
<line x1="2019.5" y1="1924.6" x2="2147.3" y2="1995.2" stroke="#8c8c46" stroke-width="1.00" stroke-opacity="0.35"/>
</g>
<text x="1981.0" y="1439.0" font-size="41.5" class="lb">3.353×10<tspan dy="-19.5" font-size="26.6">1</tspan></text>
<line x1="1286.8" y1="1982.9" x2="1722.2" y2="2293.8" stroke="#000" stroke-width="3.60" stroke-linecap="round"/>
<line x1="1722.2" y1="2293.8" x2="2184.2" y2="1990.9" stroke="#000" stroke-width="3.60" stroke-linecap="round"/>
<line x1="2184.2" y1="1990.9" x2="2236.7" y2="1415.0" stroke="#000" stroke-width="3.60" stroke-linecap="round"/>
<line x1="1351.2" y1="2028.9" x2="1343.3" y2="2033.1" stroke="#000" stroke-width="2.60"/>
<line x1="1808.2" y1="2237.3" x2="1815.7" y2="2242.4" stroke="#000" stroke-width="2.60"/>
<line x1="1418.6" y1="2077.0" x2="1414.2" y2="2079.4" stroke="#000" stroke-width="2.60"/>
<line x1="1890.3" y1="2183.5" x2="1894.5" y2="2186.2" stroke="#000" stroke-width="2.60"/>
<line x1="1489.1" y1="2127.3" x2="1481.3" y2="2131.8" stroke="#000" stroke-width="2.60"/>
<line x1="1968.8" y1="2132.1" x2="1976.4" y2="2136.9" stroke="#000" stroke-width="2.60"/>
<line x1="1563.0" y1="2180.1" x2="1558.7" y2="2182.7" stroke="#000" stroke-width="2.60"/>
<line x1="2043.7" y1="2083.0" x2="2048.1" y2="2085.5" stroke="#000" stroke-width="2.60"/>
<line x1="1640.6" y1="2235.5" x2="1633.0" y2="2240.3" stroke="#000" stroke-width="2.60"/>
<line x1="2115.5" y1="2036.0" x2="2123.3" y2="2040.4" stroke="#000" stroke-width="2.60"/>
<text transform="matrix(0.2518,0.1838,-0.3377,0.1783,1309.6,2045.2)" text-anchor="middle" y="33" font-size="100" class="ax">398K</text>
<text transform="matrix(0.2763,0.2017,-0.3420,0.1955,1445.9,2145.4)" text-anchor="middle" y="33" font-size="100" class="ax">348K</text>
<text transform="matrix(0.3045,0.2224,-0.3454,0.2153,1595.9,2255.6)" text-anchor="middle" y="33" font-size="100" class="ax">298K</text>
<text transform="matrix(0.3248,0.2452,-0.4085,0.2374,1418.8,2198.7)" text-anchor="middle" y="33" font-size="100" class="ax">Temperature</text>
<text transform="matrix(0.3429,-0.2293,0.3486,0.2368,1842.9,2261.4)" text-anchor="middle" y="33" font-size="100" class="ax">CO</text>
<text transform="matrix(0.3056,-0.2037,0.3472,0.2102,2036.0,2125.8)" text-anchor="middle" y="33" font-size="100" class="ax">CH<tspan dy="17" font-size="56">3</tspan><tspan dy="-17">CHO</tspan></text>
<text transform="matrix(0.2849,-0.1908,0.3474,0.1967,2158.3,2053.7)" text-anchor="middle" y="33" font-size="100" class="ax">C<tspan dy="17" font-size="56">6</tspan><tspan dy="-17">H</tspan><tspan dy="17" font-size="56">6</tspan></text>
<text transform="translate(2250.0,1736.5) rotate(-84.8) skewX(-7)" text-anchor="middle" y="12.9" font-size="43.0" class="ax">Recovery time (s)</text>
<text x="1468.0" y="2438.5" font-size="77.0" class="cap" textLength="573.7" lengthAdjust="spacing">(d) Zr-MoTe<tspan dy="12" font-size="48">2</tspan><tspan dy="-12">/gases</tspan></text>
</g>
</svg>
</body></html>
